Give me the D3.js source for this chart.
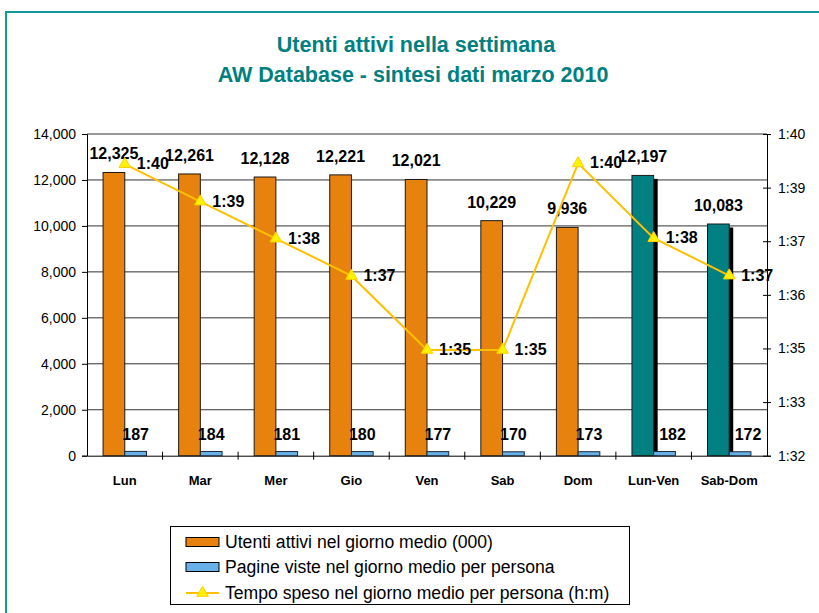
<!DOCTYPE html>
<html>
<head>
<meta charset="utf-8">
<script src="https://cdn.jsdelivr.net/npm/d3@7"></script>
<style>
    body { margin: 0; background: #fff; }
    svg { display: block; font-family: "Liberation Sans", Arial, sans-serif; }
</style>
</head>
<body>
<svg id="chart"></svg>
<script>
// data
const categories = ['Lun', 'Mar', 'Mer', 'Gio', 'Ven', 'Sab', 'Dom', 'Lun-Ven', 'Sab-Dom'];
const riepilogo = ['Lun-Ven', 'Sab-Dom'];
const utenti = [12325, 12261, 12128, 12221, 12021, 10229, 9936, 12197, 10083];
const pagine = [187, 184, 181, 180, 177, 170, 173, 182, 172];
// minutes spent (1:40 = 100 min)
const tempo = [99.25, 98.32, 97.40, 96.47, 94.63, 94.63, 99.27, 97.41, 96.48];
const tempoLabels = ['1:40', '1:39', '1:38', '1:37', '1:35', '1:35', '1:40', '1:38', '1:37'];
const leftTicks = [0, 2000, 4000, 6000, 8000, 10000, 12000, 14000];
const rightTicks = [92, 92 + 4 / 3, 92 + 8 / 3, 96, 96 + 4 / 3, 96 + 8 / 3, 100];
const legendLabels = [
    'Utenti attivi nel giorno medio (000)',
    'Pagine viste nel giorno medio per persona',
    'Tempo speso nel giorno medio per persona (h:m)'
];

const width = 819, height = 613;
const plot = { left: 87, right: 767, top: 134, bottom: 455.7 };

const orange = '#E8820F', teal = '#008080', blue = '#68B0E8';
const lineColor = '#FFC000', markerFill = '#FFF200';

const svg = d3.select('#chart')
    .attr('width', width)
    .attr('height', height);

// outer frame
svg.append('rect')
    .attr('x', 6).attr('y', 12)
    .attr('width', width + 20).attr('height', height + 20)
    .attr('fill', 'none')
    .attr('stroke', '#12999A')
    .attr('stroke-width', 2);

// title
const title = svg.append('text')
    .attr('text-anchor', 'middle')
    .attr('fill', teal)
    .style('font-size', '21.5px')
    .style('font-weight', 'bold');
title.append('tspan').attr('x', 416).attr('y', 52).text('Utenti attivi nella settimana');
title.append('tspan').attr('x', 413).attr('y', 82).text('AW Database - sintesi dati marzo 2010');

// scales
const x = d3.scaleBand()
    .domain(categories)
    .range([plot.left, plot.right]);
const xSub = d3.scaleBand()
    .domain(['utenti', 'pagine'])
    .range([0, x.bandwidth()])
    .paddingOuter(0.74);
const yLeft = d3.scaleLinear()
    .domain([0, 14000])
    .range([plot.bottom, plot.top]);
const yRight = d3.scaleLinear()
    .domain([92, 100])
    .range([plot.bottom, plot.top]);

const fmtTime = v => {
    const m = Math.round(v);
    return Math.floor(m / 60) + ':' + String(m % 60).padStart(2, '0');
};

// gridlines
svg.append('g')
    .selectAll('line')
    .data(leftTicks.filter(d => d > 0))
    .join('line')
    .attr('x1', plot.left).attr('x2', plot.right)
    .attr('y1', d => yLeft(d)).attr('y2', d => yLeft(d))
    .attr('stroke', '#333')
    .attr('stroke-width', 1);

// left axis
const leftAxis = svg.append('g')
    .attr('transform', `translate(${plot.left},0)`)
    .call(d3.axisLeft(yLeft).tickValues(leftTicks).tickFormat(d3.format(',')).tickSize(5).tickPadding(6));
leftAxis.selectAll('text').style('font-size', '14px').attr('fill', '#000');

// right axis
const rightAxis = svg.append('g')
    .attr('transform', `translate(${plot.right},0)`)
    .call(d3.axisRight(yRight).tickValues(rightTicks).tickFormat(fmtTime).tickSize(4).tickPadding(7));
rightAxis.selectAll('text').style('font-size', '14px').attr('fill', '#000');
rightAxis.selectAll('.tick line').attr('x1', -4);

// bottom axis
const bottomAxis = svg.append('g')
    .attr('transform', `translate(0,${plot.bottom})`)
    .call(d3.axisBottom(x).tickSize(0).tickPadding(20));
bottomAxis.select('.domain').attr('stroke', '#000');
bottomAxis.selectAll('text')
    .style('font-size', '13px')
    .style('font-weight', 'bold')
    .attr('fill', '#000');
bottomAxis.selectAll('.sep')
    .data(categories.slice(1))
    .join('line')
    .attr('class', 'sep')
    .attr('x1', d => x(d)).attr('x2', d => x(d))
    .attr('y1', -4).attr('y2', 4)
    .attr('stroke', '#000');
[leftAxis, rightAxis].forEach(a => a.selectAll('.domain, .tick line').attr('stroke', '#000'));

// bars
const rows = categories.map((c, i) => ({ cat: c, utenti: utenti[i], pagine: pagine[i] }));
const bars = svg.append('g');

// shadows behind summary bars
bars.selectAll('.shadow')
    .data(rows.filter(d => riepilogo.includes(d.cat)))
    .join('rect')
    .attr('class', 'shadow')
    .attr('x', d => x(d.cat) + xSub('utenti') + 4)
    .attr('y', d => yLeft(d.utenti) + 3.5)
    .attr('width', xSub.bandwidth())
    .attr('height', d => plot.bottom - yLeft(d.utenti) - 3.5)
    .attr('fill', '#000');

bars.selectAll('.utenti')
    .data(rows)
    .join('rect')
    .attr('class', 'utenti')
    .attr('x', d => x(d.cat) + xSub('utenti'))
    .attr('y', d => yLeft(d.utenti))
    .attr('width', xSub.bandwidth())
    .attr('height', d => plot.bottom - yLeft(d.utenti))
    .attr('fill', d => riepilogo.includes(d.cat) ? teal : orange)
    .attr('stroke', '#1a1a1a')
    .attr('stroke-width', 1);

bars.selectAll('.pagine')
    .data(rows)
    .join('rect')
    .attr('class', 'pagine')
    .attr('x', d => x(d.cat) + xSub('pagine'))
    .attr('y', d => yLeft(d.pagine))
    .attr('width', xSub.bandwidth())
    .attr('height', d => plot.bottom - yLeft(d.pagine))
    .attr('fill', blue)
    .attr('stroke', '#1a2a3a')
    .attr('stroke-width', 1);

// bar labels
const labelStyle = sel => sel
    .attr('text-anchor', 'middle')
    .style('font-size', '16px')
    .style('font-weight', 'bold')
    .attr('fill', '#000');

svg.append('g').selectAll('text')
    .data(rows)
    .join('text')
    .attr('x', d => x(d.cat) + xSub('utenti') + xSub.bandwidth() / 2)
    .attr('y', d => yLeft(d.utenti) - 13)
    .text(d => d3.format(',')(d.utenti))
    .call(labelStyle);

// labels of the summary columns sit a little to the right, clear of the shadow
svg.append('g').selectAll('text')
    .data(rows)
    .join('text')
    .attr('x', d => x(d.cat) + xSub('pagine') + xSub.bandwidth() / 2 + (riepilogo.includes(d.cat) ? 8 : 0))
    .attr('y', d => yLeft(d.pagine) - 11.5)
    .text(d => d.pagine)
    .call(labelStyle);

// time line
const pts = categories.map((c, i) => ({ cat: c, v: tempo[i], label: tempoLabels[i] }));
const cx = d => x(d.cat) + x.bandwidth() / 2;

svg.append('path')
    .datum(pts)
    .attr('d', d3.line().x(cx).y(d => yRight(d.v)))
    .attr('fill', 'none')
    .attr('stroke', lineColor)
    .attr('stroke-width', 2);

const triangle = d3.symbol().type(d3.symbolTriangle).size(58);
svg.append('g').selectAll('path')
    .data(pts)
    .join('path')
    .attr('d', triangle)
    .attr('transform', d => `translate(${cx(d)},${yRight(d.v)})`)
    .attr('fill', markerFill)
    .attr('stroke', '#FFD000')
    .attr('stroke-width', 1);

svg.append('g').selectAll('text')
    .data(pts)
    .join('text')
    .attr('x', d => cx(d) + 12)
    .attr('y', d => yRight(d.v) + 5)
    .style('font-size', '16px')
    .style('font-weight', 'bold')
    .attr('fill', '#000')
    .text(d => d.label);

// legend
const legend = svg.append('g');
legend.append('rect')
    .attr('x', 170.5).attr('y', 526.5)
    .attr('width', 459).attr('height', 78)
    .attr('fill', '#fff')
    .attr('stroke', '#000');

const legendRows = [542, 567, 593];
const item = legend.selectAll('.item')
    .data(legendLabels)
    .join('g')
    .attr('class', 'item')
    .attr('transform', (d, i) => `translate(186,${legendRows[i]})`);

item.filter((d, i) => i < 2)
    .append('rect')
    .attr('x', 0).attr('y', -4.5)
    .attr('width', 33).attr('height', 9)
    .attr('fill', (d, i) => i === 0 ? orange : blue)
    .attr('stroke', '#000');

const lineItem = item.filter((d, i) => i === 2);
lineItem.append('line')
    .attr('x1', 0).attr('x2', 33)
    .attr('stroke', lineColor)
    .attr('stroke-width', 2);
lineItem.append('path')
    .attr('d', triangle)
    .attr('transform', 'translate(16.5,0)')
    .attr('fill', markerFill)
    .attr('stroke', '#FFD000');

item.append('text')
    .attr('x', 39)
    .attr('y', 6)
    .style('font-size', '17.6px')
    .attr('fill', '#000')
    .text(d => d);
</script>
</body>
</html>
